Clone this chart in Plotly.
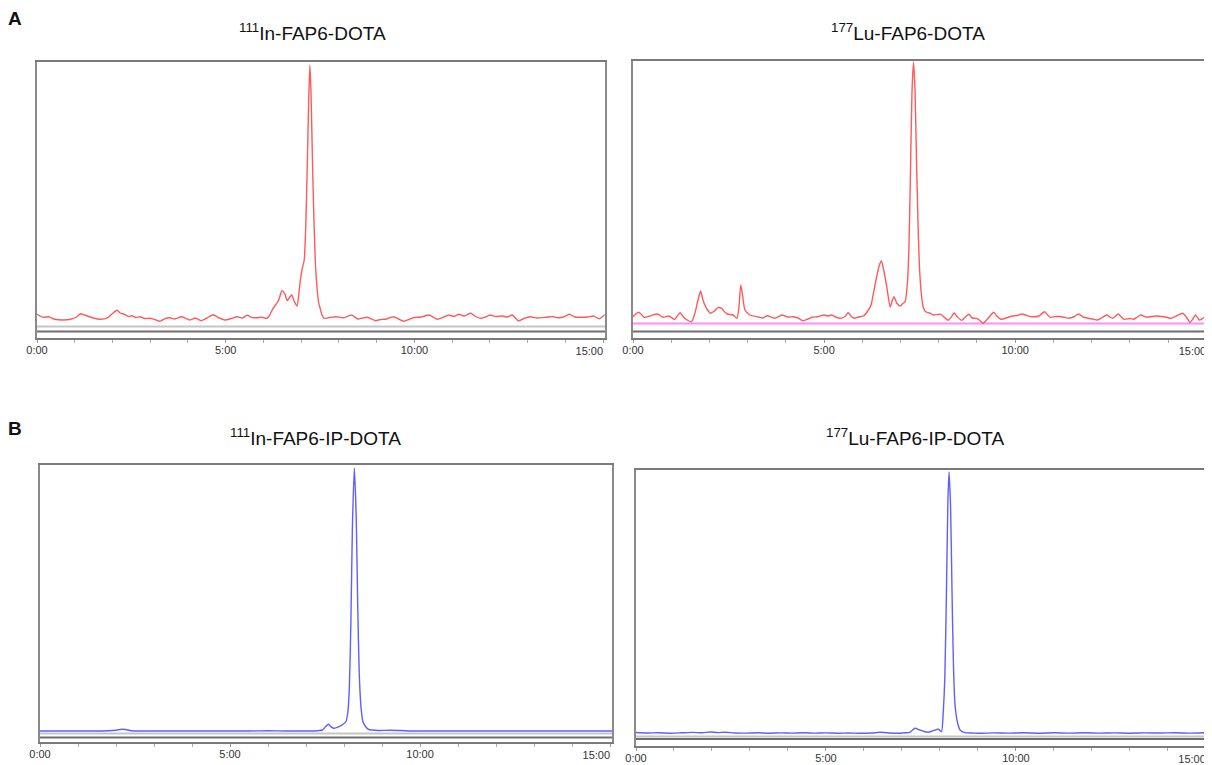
import plotly.graph_objects as go

# ---------------- data (time in min, signal in arbitrary detector units) ----------------
tick_vals = [0, 5, 10, 15]
tick_text = ["0:00", "5:00", "10:00", "15:00"]

titles = ["<sup>111</sup>In-FAP6-DOTA", "<sup>177</sup>Lu-FAP6-DOTA",
          "<sup>111</sup>In-FAP6-IP-DOTA", "<sup>177</sup>Lu-FAP6-IP-DOTA"]
panel_letters = ["A", "B"]

in_dota_t = [0.00, 0.16, 0.31, 0.47, 0.68, 0.89, 1.05, 1.15, 1.26, 1.47, 1.68, 1.89, 2.00, 2.12,
             2.20, 2.31, 2.42, 2.52, 2.62, 2.73, 2.85, 2.99, 3.12, 3.25, 3.40, 3.52, 3.65, 3.83,
             3.95, 4.04, 4.20, 4.35, 4.50, 4.67, 4.80, 4.98, 5.15, 5.30, 5.45, 5.56, 5.70, 5.82,
             5.96, 6.09, 6.16, 6.24, 6.32, 6.40, 6.49, 6.56, 6.63, 6.69, 6.75, 6.82, 6.89, 6.94,
             6.98, 7.03, 7.08, 7.12, 7.16, 7.20, 7.23, 7.26, 7.30, 7.34, 7.38, 7.42, 7.46, 7.50,
             7.55, 7.61, 7.75, 7.92, 8.13, 8.34, 8.50, 8.63, 8.76, 8.97, 9.10, 9.23, 9.44, 9.58,
             9.71, 9.85, 9.97, 10.18, 10.39, 10.60, 10.75, 10.91, 11.05, 11.18, 11.32, 11.49,
             11.62, 11.75, 11.88, 12.01, 12.15, 12.33, 12.46, 12.59, 12.75, 12.90, 13.06, 13.25,
             13.48, 13.65, 13.80, 13.95, 14.11, 14.25, 14.43, 14.60, 14.74, 14.90, 15.04]
in_dota_y = [23.7, 20.7, 21.3, 18.7, 18.0, 18.7, 21.0, 24.3, 23.0, 20.3, 18.7, 20.7, 24.5, 27.7,
             25.0, 23.7, 21.5, 22.3, 20.5, 21.3, 19.5, 19.7, 18.5, 16.7, 19.5, 20.3, 19.0, 21.3,
             19.5, 18.0, 20.0, 17.3, 20.0, 23.3, 20.5, 18.0, 19.5, 21.3, 20.0, 22.7, 20.5, 20.3,
             20.7, 19.7, 22.5, 28.7, 33.0, 37.5, 47.3, 44.7, 37.3, 40.5, 43.0, 36.3, 32.0, 45.0,
             58.0, 69.7, 78.0, 110.0, 170.0, 240.0, 273.0, 245.0, 175.0, 115.0, 72.0, 50.0, 36.0, 30.0,
             23.0, 19.7, 20.5, 21.3, 20.3, 23.0, 19.0, 20.0, 20.7, 17.3, 18.5, 18.7, 21.3, 19.0,
             16.7, 18.5, 20.3, 21.0, 23.0, 18.7, 20.5, 23.0, 21.5, 23.7, 22.0, 24.7,
             21.5, 19.7, 21.0, 23.0, 21.5, 22.0, 21.0, 23.0, 17.3, 19.5, 21.3, 20.0,
             20.7, 21.5, 20.3, 21.0, 23.7, 21.0, 20.7, 21.0, 22.0, 19.3, 23.3]

lu_dota_t = [0.00, 0.15, 0.30, 0.44, 0.64, 0.79, 0.94, 1.09, 1.23, 1.35, 1.53, 1.63, 1.70, 1.77,
             1.83, 1.88, 1.95, 2.03, 2.13, 2.22, 2.32, 2.40, 2.47, 2.62, 2.72, 2.77, 2.82, 2.87,
             2.93, 3.06, 3.26, 3.40, 3.51, 3.71, 3.90, 4.05, 4.20, 4.32, 4.45, 4.58, 4.69, 4.85,
             4.99, 5.10, 5.19, 5.30, 5.43, 5.55, 5.63, 5.70, 5.78, 5.90, 6.03, 6.16, 6.23, 6.29,
             6.37, 6.44, 6.50, 6.56, 6.64, 6.73, 6.78, 6.83, 6.90, 6.99, 7.06, 7.12, 7.18, 7.22,
             7.26, 7.30, 7.34, 7.38, 7.42, 7.46, 7.50, 7.55, 7.60, 7.66, 7.76, 7.86, 8.05, 8.15,
             8.25, 8.33, 8.40, 8.48, 8.60, 8.70, 8.79, 8.88, 8.99, 9.08, 9.16, 9.30, 9.44, 9.52,
             9.63, 9.80, 9.93, 10.05, 10.18, 10.30, 10.42, 10.62, 10.77, 10.85, 10.92, 11.05,
             11.22, 11.41, 11.55, 11.66, 11.78, 11.91, 12.03, 12.15, 12.28, 12.40, 12.48, 12.55,
             12.70, 12.78, 12.85, 13.00, 13.10, 13.20, 13.29, 13.42, 13.54, 13.70, 13.88, 13.98,
             14.08, 14.22, 14.38, 14.48, 14.58, 14.65, 14.72, 14.82, 14.92, 15.02]
lu_dota_y = [21.3, 25.7, 20.7, 22.0, 24.0, 20.7, 22.0, 18.7, 25.3, 19.7, 16.3, 26.3, 38.0, 47.0,
             38.0, 33.0, 28.0, 24.7, 27.0, 30.3, 29.7, 26.0, 24.0, 23.0, 19.7, 30.0, 53.0, 42.0,
             28.0, 23.0, 21.3, 20.0, 22.3, 19.7, 23.0, 21.0, 21.3, 20.0, 17.3, 19.0, 20.7, 21.5,
             23.0, 22.0, 23.0, 21.0, 19.7, 21.5, 25.3, 22.0, 19.7, 21.0, 22.0, 28.0, 33.0, 44.7,
             60.0, 72.0, 77.0, 68.0, 51.3, 30.7, 37.0, 41.3, 35.0, 32.0, 34.5, 36.3, 55.0, 90.0,
             165.0, 245.0, 276.0, 248.0, 175.0, 112.0, 68.0, 42.0, 30.0, 26.3, 25.0, 23.0, 23.7, 20.5,
             17.7, 21.0, 25.0, 21.5, 17.7, 21.0, 23.7, 20.0, 19.7, 17.5, 14.7, 20.0, 25.7, 22.0,
             18.7, 20.5, 22.0, 22.5, 24.0, 22.5, 21.3, 22.0, 26.3, 23.0, 20.7, 21.5,
             21.3, 19.7, 21.5, 24.0, 21.0, 19.7, 19.0, 18.0, 20.5, 23.0, 21.0, 19.7,
             24.0, 21.0, 18.7, 19.5, 18.7, 21.0, 23.0, 21.0, 21.3, 22.0, 21.3, 20.5,
             19.7, 22.0, 24.7, 21.0, 15.7, 19.0, 23.0, 18.0, 20.0, 22.0]

in_ip_t = [0.00, 0.50, 1.00, 1.50, 1.80, 2.00, 2.15, 2.25, 2.40, 2.60, 3.50, 4.50, 5.50, 6.00,
           6.50, 7.00, 7.30, 7.43, 7.52, 7.59, 7.65, 7.72, 7.82, 7.95, 8.05, 8.10, 8.14, 8.18,
           8.22, 8.27, 8.32, 8.36, 8.40, 8.45, 8.50, 8.57, 8.65, 8.74, 8.90, 9.20, 9.50, 9.80,
           10.50, 11.50, 12.50, 13.50, 14.50, 15.05]
in_ip_y = [11.0, 11.0, 11.0, 11.0, 11.2, 11.8, 12.8, 12.5, 11.3, 11.0, 11.0, 11.0, 11.0, 11.2,
           11.0, 11.0, 11.3, 12.0, 15.5, 17.7, 15.5, 13.7, 14.7, 17.0, 20.5, 30.0, 55.0, 120.0,
           215.0, 274.0, 225.0, 135.0, 68.0, 33.0, 20.0, 15.3, 12.5, 12.0, 11.5, 11.8, 11.5, 11.0,
           11.0, 11.0, 11.0, 11.0, 11.0, 11.0]

lu_ip_t = [0.00, 0.30, 0.60, 0.90, 1.20, 1.50, 1.75, 1.95, 2.15, 2.35, 2.60, 2.90, 3.20, 3.50,
           3.80, 4.10, 4.40, 4.70, 5.00, 5.30, 5.60, 5.89, 6.20, 6.42, 6.70, 6.95, 7.10, 7.21,
           7.34, 7.47, 7.58, 7.69, 7.82, 7.96, 8.04, 8.09, 8.13, 8.17, 8.21, 8.24, 8.28, 8.32,
           8.36, 8.40, 8.46, 8.53, 8.66, 8.85, 9.05, 9.40, 9.80, 10.20, 10.60, 11.00, 11.40,
           11.80, 12.20, 12.60, 13.00, 13.40, 13.80, 14.20, 14.60, 15.00]
lu_ip_y = [13.5, 13.0, 13.3, 12.8, 13.2, 13.6, 13.2, 14.0, 13.4, 13.8, 13.0, 12.9, 13.2, 12.8,
           13.1, 12.9, 13.2, 12.9, 13.1, 12.8, 13.0, 12.7, 13.0, 13.7, 13.0, 12.7, 13.2, 13.7,
           17.7, 16.0, 14.5, 13.7, 15.3, 16.7, 14.3, 36.0, 70.0, 150.0, 245.0, 274.0, 240.0, 150.0,
           75.0, 40.0, 24.0, 16.0, 13.3, 13.0, 12.7, 13.1, 12.9, 13.2, 12.8, 13.2, 12.9,
           13.2, 12.9, 13.1, 12.8, 13.1, 13.0, 13.2, 12.9, 13.3]

# constant reference channels drawn under each chromatogram
in_dota_refs = [11.5, 6.5]
lu_dota_refs = [14.5, 6.5]
in_ip_refs = [8.5, 4.5]
lu_ip_refs = [9.5, 7.0]

run_end = [15.05, 15.02, 15.05, 15.03]
signal_max = [276, 277, 277, 276]

# ---------------- figure ----------------
# the page body adds an 8px margin, so the figure is 8px smaller / offset
OFF = 8
FW, FH = 1212 - OFF, 765 - OFF


def px(x):
    return (x - OFF) / FW


def py(y):
    return 1 - (y - OFF) / FH


RED = "#ff5a5a"
BLUE = "#5f5fff"
panels = [
    dict(t=in_dota_t, y=in_dota_y, color=RED, refs=in_dota_refs,
         ref_colors=["#c6c6c6", "#6f6f6f"],
         xd=[px(37), px(605)], yd=[py(338), py(62)]),
    dict(t=lu_dota_t, y=lu_dota_y, color=RED, refs=lu_dota_refs,
         ref_colors=["#ff8cff", "#6f6f6f"],
         xd=[px(633), px(1207)], yd=[py(338), py(61)]),
    dict(t=in_ip_t, y=in_ip_y, color=BLUE, refs=in_ip_refs,
         ref_colors=["#c6c6c6", "#6f6f6f"],
         xd=[px(40), px(612)], yd=[py(742), py(465)]),
    dict(t=lu_ip_t, y=lu_ip_y, color=BLUE, refs=lu_ip_refs,
         ref_colors=["#c6c6c6", "#6f6f6f"],
         xd=[px(636), px(1207)], yd=[py(746), py(470)]),
]

# the last label is right-aligned to its tick (drawn by a twin axis), as in the print-out
main_text = tick_text[:-1] + [""]
tick_font = dict(family="Liberation Sans, Arial", size=11, color="#333333")

fig = go.Figure()
layout = dict(width=FW, height=FH, margin=dict(l=0, r=0, t=0, b=0, pad=0, autoexpand=False),
              paper_bgcolor="white", plot_bgcolor="white", showlegend=False)

for i, p in enumerate(panels):
    n = "" if i == 0 else str(i + 1)
    xa, ya = "x" + n, "y" + n
    xt = "x" + str(5 + i)  # twin axis for the right-aligned end label
    for k, (lvl, col) in enumerate(zip(p["refs"], p["ref_colors"])):
        fig.add_trace(go.Scatter(x=[0, run_end[i]], y=[lvl, lvl], mode="lines",
                                 line=dict(color=col, width=2),
                                 xaxis=(xt if k == len(p["refs"]) - 1 else xa), yaxis=ya,
                                 hoverinfo="skip"))
    fig.add_trace(go.Scatter(x=p["t"], y=p["y"], mode="lines",
                             line=dict(color=p["color"], width=1.4, shape="spline", smoothing=0.6),
                             xaxis=xa, yaxis=ya))
    layout["xaxis" + n] = dict(
        domain=p["xd"], anchor=ya, range=[0, run_end[i]], automargin=False,
        tickvals=tick_vals, ticktext=main_text, ticks="outside", ticklen=3,
        tickcolor="#999999", tickwidth=1, ticklabelstandoff=-2,
        minor=dict(dtick=1, tick0=0, ticks="outside", ticklen=3, tickcolor="#aaaaaa"),
        showgrid=False, zeroline=False, showline=True, mirror=True,
        linecolor="#7a7a7a", linewidth=1.5, tickfont=tick_font)
    layout["xaxis" + str(5 + i)] = dict(
        overlaying=xa, anchor=ya, side="bottom", range=[0, run_end[i]], automargin=False,
        tickvals=tick_vals[-1:], ticktext=tick_text[-1:], ticks="",
        ticklabelposition="outside left", ticklabeloverflow="allow", ticklabelstandoff=5,
        showgrid=False, zeroline=False, showline=False, tickfont=tick_font)
    layout["yaxis" + n] = dict(
        domain=p["yd"], anchor=xa, range=[0, signal_max[i]], automargin=False,
        showticklabels=False, ticks="", showgrid=False, zeroline=False,
        showline=True, mirror=True, linecolor="#8a8a8a", linewidth=1.5)

fig.update_layout(**layout)

title_pos = [(312, 32), (908, 32), (315, 437), (915, 437)]
for (tx, ty), txt in zip(title_pos, titles):
    fig.add_annotation(text=txt, xref="paper", yref="paper", x=px(tx), y=py(ty),
                       xanchor="center", yanchor="middle", showarrow=False,
                       font=dict(family="Liberation Sans, Arial", size=19, color="#111111"))

for (lx, ly), letter in zip([(15, 18), (15, 428)], panel_letters):
    fig.add_annotation(text="<b>%s</b>" % letter, xref="paper", yref="paper",
                       x=px(lx), y=py(ly), xanchor="center", yanchor="middle",
                       showarrow=False,
                       font=dict(family="Liberation Sans, Arial", size=19, color="#111111"))

fig.write_html("out.html")
